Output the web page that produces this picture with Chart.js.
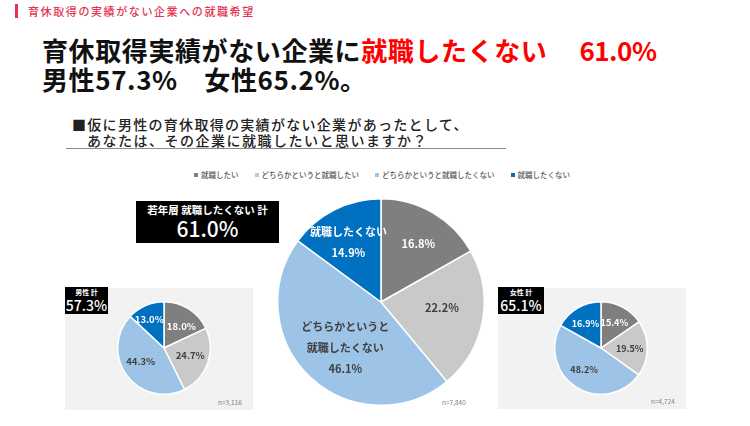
<!DOCTYPE html>
<html lang="ja">
<head>
<meta charset="utf-8">
<script src="https://cdn.jsdelivr.net/npm/chart.js@4.4.1/dist/chart.umd.min.js"></script>
<style>
  body { margin: 0; background: #fff; font-family: "Noto Sans CJK JP", sans-serif; }
  #page { position: relative; width: 750px; height: 426px; overflow: hidden; }
  .abs { position: absolute; white-space: nowrap; }
  .tagbar { left: 15px; top: 4px; width: 3px; height: 14px; background: #e3334f; }
  .tag { left: 28px; top: 3px; font-size: 11px; line-height: 16px; letter-spacing: 1.6px; color: #e3334f; font-weight: 500; }
  .title { left: 42px; font-size: 26px; font-weight: 700; color: #111; line-height: 28px; letter-spacing: 0.6px; }
  .title .red { color: #ff0000; }
  .sub { left: 72px; font-size: 14px; line-height: 16px; font-weight: 500; color: #222; letter-spacing: 1.3px; }
  .rule { left: 66px; top: 148px; width: 440px; height: 1px; background: #8c8c8c; }
  #legend { left: 0; width: 764px; top: 169px; display: flex; justify-content: center; gap: 16px; font-size: 7.5px; color: #595959; font-weight: 500; }
  #legend span.box { display: inline-block; width: 4px; height: 4px; margin-right: 3px; vertical-align: 1px; }
  .panel { background: #f2f2f2; }
  .black { background: #000; color: #fff; text-align: center; }
  .nlab { font-size: 6.5px; color: #7f7f7f; }
  canvas { position: absolute; }
</style>
</head>
<body>
<div id="page">
  <div class="abs tagbar"></div>
  <div class="abs tag">育休取得の実績がない企業への就職希望</div>

  <div class="abs title" style="top:36px">育休取得実績がない企業に<span class="red">就職したくない<span style="margin-left:32px; letter-spacing:-0.5px">61.0%</span></span></div>
  <div class="abs title" style="top:65px">男性57.3%　女性65.2%。</div>

  <div class="abs sub" style="top:116px">■仮に男性の育休取得の実績がない企業があったとして、</div>
  <div class="abs sub" style="top:132px; left:87px; letter-spacing:1.5px">あなたは、その企業に就職したいと思いますか？</div>
  <div class="abs rule"></div>

  <div class="abs" id="legend"></div>

  <div class="abs panel" style="left:65px; top:288px; width:188px; height:122px"></div>
  <div class="abs panel" style="left:498px; top:288px; width:188px; height:121px"></div>

  <div class="abs black" style="left:136px; top:201px; width:143px; height:42px">
    <div style="font-size:10.5px; font-weight:700; line-height:14px; padding-top:2px">若年層 就職したくない 計</div>
    <div style="font-size:21px; font-weight:500; line-height:23px">61.0%</div>
  </div>
  <div class="abs black" style="left:65px; top:287px; width:43px; height:27px">
    <div style="font-size:7px; font-weight:700; line-height:10px">男性 計</div>
    <div style="font-size:14px; font-weight:500; line-height:16px">57.3%</div>
  </div>
  <div class="abs black" style="left:498px; top:287px; width:46px; height:27px">
    <div style="font-size:7px; font-weight:700; line-height:10px">女性 計</div>
    <div style="font-size:14px; font-weight:500; line-height:16px">65.1%</div>
  </div>

  <canvas id="malePie" width="96" height="96" style="left:116px; top:300px"></canvas>
  <canvas id="totalPie" width="210" height="210" style="left:276px; top:197px"></canvas>
  <canvas id="femalePie" width="96" height="96" style="left:553px; top:300px"></canvas>

  <div class="abs nlab" style="left:218px; top:397px">n=3,116</div>
  <div class="abs nlab" style="left:442px; top:397px">n=7,840</div>
  <div class="abs nlab" style="left:651px; top:396px">n=4,724</div>
</div>

<script>
const categories = ["就職したい", "どちらかというと就職したい", "どちらかというと就職したくない", "就職したくない"];
const totalValues = [16.8, 22.2, 46.1, 14.9];
const maleValues = [18.0, 24.7, 44.3, 13.0];
const femaleValues = [15.4, 19.5, 48.2, 16.9];

const colors = ["#7f7f7f", "#c9c9c9", "#9dc3e6", "#0070c0"];
const labelColors = ["#ffffff", "#404040", "#404040", "#ffffff"];

// legend (html, same colours as the slices)
const legend = document.getElementById("legend");
categories.forEach((c, i) => {
  const item = document.createElement("div");
  item.innerHTML = '<span class="box" style="background:' + colors[i] + '"></span>' + c;
  legend.appendChild(item);
});

// draws the percentage (and optional name) inside each slice
const sliceLabels = {
  id: "sliceLabels",
  afterDatasetsDraw(chart, args, opts) {
    const ctx = chart.ctx;
    const meta = chart.getDatasetMeta(0);
    const data = chart.data.datasets[0].data;
    meta.data.forEach((arc, i) => {
      const p = arc.getProps(["x", "y", "startAngle", "endAngle", "outerRadius"], true);
      const mid = (p.startAngle + p.endAngle) / 2;
      const r = p.outerRadius * opts.dist[i];
      const shift = opts.shift ? opts.shift[i] : [0, 0];
      const x = p.x + Math.cos(mid) * r + shift[0];
      const y = p.y + Math.sin(mid) * r + shift[1];
      const lines = (opts.names && opts.names[i] ? opts.names[i] : []).concat(data[i].toFixed(1) + "%");
      ctx.save();
      ctx.font = "700 " + opts.size + 'px "Noto Sans CJK JP"';
      ctx.fillStyle = labelColors[i];
      ctx.textAlign = "center";
      ctx.textBaseline = "middle";
      lines.forEach((t, j) => {
        ctx.fillText(t, x, y + (j - (lines.length - 1) / 2) * opts.lineHeight);
      });
      ctx.restore();
    });
  }
};

function makePie(id, values, labelOpts) {
  return new Chart(document.getElementById(id), {
    type: "pie",
    data: {
      labels: categories,
      datasets: [{
        data: values,
        backgroundColor: colors,
        borderColor: "#ffffff",
        borderWidth: 1.5,
      }],
    },
    options: {
      responsive: false,
      animation: false,
      layout: { padding: 1 },
      plugins: {
        legend: { display: false },
        tooltip: { enabled: false },
        sliceLabels: labelOpts,
      },
    },
    plugins: [sliceLabels],
  });
}

makePie("totalPie", totalValues, {
  size: 11, lineHeight: 21,
  dist: [0.68, 0.6, 0.56, 0.7],
  shift: [[2, 2], [0, -5], [4, 4], [0, 5]],
  names: [null, null, ["どちらかというと", "就職したくない"], ["就職したくない"]],
});
makePie("malePie", maleValues, {
  size: 9.5, lineHeight: 12,
  dist: [0.62, 0.6, 0.6, 0.8],
  shift: [[2, 3], [0, -2], [-1, -3], [0, 5]],
});
makePie("femalePie", femaleValues, {
  size: 9, lineHeight: 12,
  dist: [0.62, 0.62, 0.6, 0.62],
  shift: [[0, 0], [0, 0], [-2, -2], [-1, 0]],
});
</script>
</body>
</html>
